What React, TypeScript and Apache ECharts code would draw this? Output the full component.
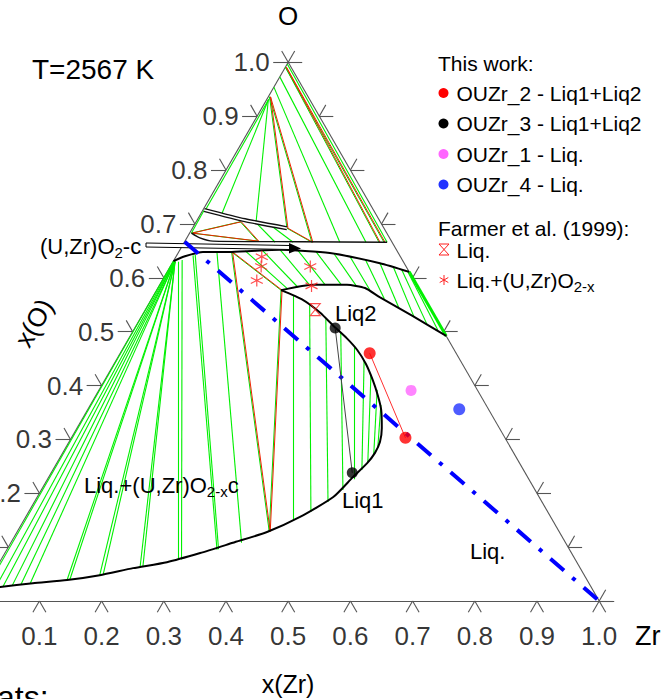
import React, { useEffect, useRef } from "react";
import * as echarts from "echarts";

type P = [number, number];

// ---------- axes ----------
const tickValues = [0, 0.1, 0.2, 0.3, 0.4, 0.5, 0.6, 0.7, 0.8, 0.9, 1.0];
const tickLabels = ["0.1", "0.2", "0.3", "0.4", "0.5", "0.6", "0.7", "0.8", "0.9", "1.0"];

// ---------- phase boundaries, points are [x(Zr), x(O)] ----------
const liqBoundary: P[] = [
  [0.0, 0.022], [0.024, 0.026], [0.073, 0.033], [0.125, 0.039], [0.173, 0.048],
  [0.22, 0.061], [0.269, 0.072], [0.314, 0.089], [0.357, 0.108], [0.402, 0.128],
  [0.441, 0.156], [0.476, 0.193], [0.489, 0.23], [0.499, 0.256], [0.502, 0.275],
  [0.5, 0.295], [0.49, 0.321], [0.472, 0.355], [0.453, 0.382], [0.431, 0.41],
  [0.405, 0.44], [0.378, 0.466], [0.35, 0.488], [0.317, 0.511], [0.284, 0.535],
  [0.244, 0.559], [0.2, 0.577],
];
const liqOxideBoundary: P[] = [
  [0.2, 0.577], [0.247, 0.587], [0.301, 0.587], [0.333, 0.581], [0.365, 0.564],
  [0.436, 0.529], [0.508, 0.492],
];
const oxideBoundary: P[] = [
  [0.0, 0.631], [0.014, 0.64], [0.039, 0.648], [0.085, 0.648], [0.161, 0.652],
  [0.244, 0.646], [0.334, 0.627], [0.389, 0.611],
];
const cubicUpperBoundary: P[] = [
  [0.003, 0.683], [0.021, 0.674], [0.045, 0.668], [0.185, 0.667], [0.326, 0.666],
];
const narrowPhase: P[] = [[0.002, 0.726], [0.077, 0.707], [0.152, 0.692]];

// ---------- three-phase triangles ----------
const triLiq1Liq2Oxide: P[] = [[0.085, 0.648], [0.2, 0.577], [0.405, 0.129]];
const triTopA: P[] = [[0.003, 0.683], [0.071, 0.704], [0.117, 0.668]];
const triTopB: P[] = [[0.002, 0.936], [0.152, 0.692], [0.205, 0.666]];
const triTopC: P[] = [[0.0, 0.991], [0.313, 0.666], [0.321, 0.666]];

// ---------- tie lines [xZr1, xO1, xZr2, xO2] ----------
const tiesLiqOxide = [
  [0.0, 0.631, 0.003, 0.022], [0.001, 0.631, 0.017, 0.024], [0.002, 0.631, 0.028, 0.027],
  [0.002, 0.631, 0.042, 0.029], [0.003, 0.63, 0.055, 0.031], [0.003, 0.63, 0.069, 0.032],
  [0.003, 0.63, 0.125, 0.039], [0.003, 0.63, 0.129, 0.04], [0.003, 0.63, 0.173, 0.048],
  [0.003, 0.63, 0.178, 0.049], [0.003, 0.63, 0.23, 0.064], [0.003, 0.63, 0.234, 0.065],
  [0.008, 0.63, 0.285, 0.076], [0.013, 0.633, 0.29, 0.077], [0.026, 0.642, 0.338, 0.095],
  [0.029, 0.643, 0.34, 0.096], [0.062, 0.647, 0.371, 0.108],
];
const tiesLiq1Liq2 = [
  [0.224, 0.568, 0.433, 0.15], [0.26, 0.549, 0.454, 0.165], [0.299, 0.523, 0.472, 0.184],
  [0.335, 0.499, 0.485, 0.206], [0.369, 0.473, 0.493, 0.226], [0.399, 0.446, 0.497, 0.243],
  [0.423, 0.42, 0.499, 0.258], [0.447, 0.392, 0.502, 0.271], [0.467, 0.364, 0.502, 0.284],
];
const tiesOxideLiq2 = [
  [0.106, 0.65, 0.21, 0.579], [0.133, 0.651, 0.225, 0.582], [0.161, 0.652, 0.242, 0.586],
  [0.19, 0.651, 0.266, 0.587], [0.221, 0.648, 0.292, 0.587], [0.251, 0.645, 0.317, 0.585],
  [0.279, 0.64, 0.343, 0.577], [0.307, 0.634, 0.374, 0.561], [0.334, 0.627, 0.406, 0.544],
  [0.359, 0.62, 0.439, 0.527], [0.375, 0.615, 0.466, 0.514], [0.385, 0.613, 0.489, 0.503],
];
const tieOxideLiq2Edge = [[0.389, 0.611, 0.508, 0.492]];
const tiesTop = [
  [0.0, 0.997, 0.326, 0.666], [0.0, 0.973, 0.292, 0.666], [0.0, 0.954, 0.25, 0.666],
  [0.003, 0.932, 0.004, 0.724], [0.003, 0.93, 0.034, 0.718], [0.003, 0.93, 0.096, 0.705],
  [0.002, 0.726, 0.003, 0.683], [0.095, 0.704, 0.146, 0.666], [0.122, 0.698, 0.175, 0.666],
];

// ---------- experiments ----------
const ouzr2: P[] = [[0.401, 0.46], [0.537, 0.303]];
const ouzr3: P[] = [[0.322, 0.507], [0.484, 0.238]];
const ouzr1: P[] = [[0.502, 0.391]];
const ouzr4: P[] = [[0.597, 0.356]];
const farmerLiq: P[] = [[0.273, 0.541]];
const farmerLiqOxide: P[] = [[0.138, 0.639], [0.146, 0.621], [0.152, 0.595], [0.225, 0.621], [0.245, 0.585]];
const sectionUO2Zr: P[] = [[0.0, 0.667], [1.012, -0.008]];

// ---------- helpers ----------
const H = Math.sqrt(3) / 2;
const PX = 1 / 622;
const FONT = '"Liberation Sans", Arial, Helvetica, sans-serif';
const GREEN = "#00f000";
const xy = (p: number[]): [number, number] => [p[0] + p[1] / 2, p[1] * H];

function segs(list: number[][], dx = 0) {
  return list.map((t) => {
    const a = xy([t[0], t[1]]);
    const b = xy([t[2], t[3]]);
    return { coords: [[a[0] + dx, a[1]], [b[0] + dx, b[1]]] };
  });
}
function triSegs(tri: P[], dx = 0) {
  return [0, 1, 2].map((i) => {
    const a = xy(tri[i]);
    const b = xy(tri[(i + 1) % 3]);
    return { coords: [[a[0] + dx, a[1]], [b[0] + dx, b[1]]] };
  });
}

function buildOption() {
  const edgeSegs: any[] = [
    { coords: [xy([0, 0]), xy([0, 1])] },
    { coords: [xy([0, 1]), xy([1, 0])] },
    { coords: [xy([0, 0]), [xy([1, 0])[0] + 15 * PX, 0]] },
  ];
  for (const v of tickValues) {
    const L = xy([0, v]);
    edgeSegs.push({ coords: [L, [L[0] - 15 * PX, L[1]]] });
    edgeSegs.push({ coords: [L, [L[0] - 6.5 * PX, L[1] + 11.3 * PX]] });
    const R = xy([1 - v, v]);
    edgeSegs.push({ coords: [R, [R[0] + 14 * PX, R[1]]] });
    edgeSegs.push({ coords: [R, [R[0] + 6.5 * PX, R[1] + 11.3 * PX]] });
    const B = xy([v, 0]);
    edgeSegs.push({ coords: [B, [B[0] - 6.5 * PX, B[1] - 11.3 * PX]] });
    edgeSegs.push({ coords: [B, [B[0] + 6.5 * PX, B[1] - 11.3 * PX]] });
  }
  const leftLabels = tickValues.slice(1).map((v, i) => [...xy([0, v]), tickLabels[i]]);
  const bottomLabels = tickValues.slice(1).map((v, i) => [...xy([v, 0]), tickLabels[i]]);

  const linesBase = {
    type: "lines",
    coordinateSystem: "cartesian2d",
    polyline: false,
    silent: true,
    large: false,
    effect: { show: false },
  };
  const curve = (data: P[], width: number, color: string, z: number, smooth: number | boolean = 0.2) => ({
    type: "line",
    data: data.map(xy),
    symbol: "none",
    showSymbol: false,
    smooth,
    silent: true,
    lineStyle: { color, width, opacity: 1 },
    z,
  });
  const greenTies = [
    ...segs(tiesLiqOxide),
    ...segs(tiesLiq1Liq2),
    ...segs(tiesOxideLiq2),
    ...segs(tiesTop),
  ];
  const tris = [triLiq1Liq2Oxide, triTopA, triTopB, triTopC];

  const asterisk = "path://M5 0L5 10M0.67 2.5L9.33 7.5M0.67 7.5L9.33 2.5";
  const hourglass = "path://M0 0L10 0L0 12L10 12Z";

  const txt = (text: string, x: number, y: number, size: number, align = "left", extra: any = {}) => ({
    type: "text",
    x,
    y,
    z: 20,
    silent: true,
    ...extra,
    style: {
      text,
      fill: "#000",
      font: `${size}px ${FONT}`,
      fontSize: size,
      fontFamily: FONT,
      align,
      textAlign: align,
      verticalAlign: "middle",
      textVerticalAlign: "middle",
      ...(extra.style || {}),
    },
  });
  const richTxt = (parts: string, x: number, y: number, size: number) => ({
    type: "text",
    x,
    y,
    z: 20,
    silent: true,
    style: {
      text: parts,
      fill: "#000",
      align: "left",
      textAlign: "left",
      verticalAlign: "middle",
      textVerticalAlign: "middle",
      font: `${size}px ${FONT}`,
      rich: {
        a: { fontSize: size, fontFamily: FONT, fill: "#000", color: "#000" },
        b: { fontSize: 15, fontFamily: FONT, fill: "#000", color: "#000", padding: [12, 0, 0, 0] },
      },
    },
  });

  const legendRows = [
    { y: 93, color: "#ff0000", text: "OUZr_2 - Liq1+Liq2" },
    { y: 123.5, color: "#000000", text: "OUZr_3 - Liq1+Liq2" },
    { y: 154, color: "#ff66ff", text: "OUZr_1 - Liq." },
    { y: 184.5, color: "#2233ff", text: "OUZr_4 - Liq." },
  ];
  const graphic: any[] = [
    txt("O", 288, 16, 26, "center"),
    txt("T=2567 K", 32, 69, 28),
    txt("Zr", 635, 636, 27),
    txt("x(Zr)", 288, 684, 25, "center"),
    txt("x(O)", 34, 323, 26, "center", { rotation: Math.PI / 3 }),
    txt("ats:", -3, 697, 32),
    richTxt("{a|(U,Zr)O}{b|2}{a|-c}", 40, 246.5, 22),
    richTxt("{a|Liq.+(U,Zr)O}{b|2-x}{a|c}", 84, 485, 22),
    txt("Liq2", 335, 313, 22),
    txt("Liq1", 342, 500, 22),
    txt("Liq.", 470, 551, 22),
    // arrow
    {
      type: "polygon",
      z: 5,
      silent: true,
      shape: { points: [[146, 243], [290, 245.5], [290, 249.5], [146, 247]] },
      style: { fill: "#fff", stroke: "#000", lineWidth: 1 },
    },
    {
      type: "polygon",
      z: 5,
      silent: true,
      shape: { points: [[289, 243], [301, 248.5], [289, 253.5]] },
      style: { fill: "#000" },
    },
    // legend
    txt("This work:", 438, 63, 21),
    ...legendRows.map((r) => ({
      type: "circle",
      z: 20,
      silent: true,
      shape: { cx: 443.5, cy: r.y, r: 5 },
      style: { fill: r.color },
    })),
    ...legendRows.map((r) => txt(r.text, 456.5, r.y, 21)),
    txt("Farmer et al. (1999):", 438, 228, 21),
    {
      type: "polygon",
      z: 20,
      silent: true,
      shape: { points: [[439, 244], [449, 244], [439, 255], [449, 255]] },
      style: { fill: "none", stroke: "#ff2020", lineWidth: 1 },
    },
    txt("Liq.", 456.5, 250, 21),
    { type: "line", z: 20, silent: true, shape: { x1: 444, y1: 275, x2: 444, y2: 285 }, style: { stroke: "#ff2020", lineWidth: 1 } },
    { type: "line", z: 20, silent: true, shape: { x1: 439.7, y1: 277.5, x2: 448.3, y2: 282.5 }, style: { stroke: "#ff2020", lineWidth: 1 } },
    { type: "line", z: 20, silent: true, shape: { x1: 439.7, y1: 282.5, x2: 448.3, y2: 277.5 }, style: { stroke: "#ff2020", lineWidth: 1 } },
    richTxt("{a|Liq.+(U,Zr)O}{b|2-x}", 456.5, 280, 21),
  ];

  return {
    animation: false,
    backgroundColor: "#ffffff",
    grid: { left: 0, right: 0, top: 0, bottom: 0, containLabel: false, outerBoundsMode: "none" },
    xAxis: { type: "value", min: 22.8 / 622, max: 689.8 / 622, show: false },
    yAxis: { type: "value", min: -98 / 622, max: 601 / 622, show: false },
    graphic,
    series: [
      { ...linesBase, name: "axes", z: 1, lineStyle: { color: "#555", width: 1.1, opacity: 1 }, data: edgeSegs },
      { ...linesBase, name: "tie lines", z: 2, lineStyle: { color: GREEN, width: 1.1, opacity: 1 }, data: greenTies },
      { ...linesBase, name: "tie edge", z: 2, lineStyle: { color: GREEN, width: 3, opacity: 1 }, data: segs(tieOxideLiq2Edge) },
      { ...linesBase, name: "tri green", z: 3, lineStyle: { color: "#00dd00", width: 1, opacity: 1 }, data: tris.flatMap((t) => triSegs(t)) },
      { ...linesBase, name: "tri red", z: 3, lineStyle: { color: "#ee2200", width: 1, opacity: 1 }, data: tris.flatMap((t) => triSegs(t, PX)) },
      curve(liqBoundary, 2, "#000", 4),
      curve(liqOxideBoundary, 2, "#000", 4),
      curve(oxideBoundary, 2, "#000", 4),
      curve(cubicUpperBoundary, 1.4, "#111", 4),
      curve(narrowPhase, 4.2, "#111", 4),
      curve(narrowPhase, 1.6, "#fff", 4.5),
      {
        type: "line",
        name: "UO2-Zr",
        data: sectionUO2Zr.map(xy),
        symbol: "none",
        silent: true,
        lineStyle: { color: "#0000ff", width: 4, type: [18, 11, 4, 11], cap: "butt", opacity: 1 },
        z: 6,
      },
      curve(ouzr3, 1, "#444", 7, false),
      curve(ouzr2, 1, "#ff3030", 7, false),
      { type: "scatter", name: "OUZr_2 - Liq1+Liq2", data: ouzr2.map(xy), symbol: "circle", symbolSize: 12, itemStyle: { color: "#ff0000" }, z: 8, silent: true },
      { type: "scatter", name: "OUZr_3 - Liq1+Liq2", data: ouzr3.map(xy), symbol: "circle", symbolSize: 11, itemStyle: { color: "#000000" }, z: 8, silent: true },
      { type: "scatter", name: "OUZr_1 - Liq.", data: ouzr1.map(xy), symbol: "circle", symbolSize: 11, itemStyle: { color: "#ff66ff" }, z: 8, silent: true },
      { type: "scatter", name: "OUZr_4 - Liq.", data: ouzr4.map(xy), symbol: "circle", symbolSize: 12, itemStyle: { color: "#2233ff" }, z: 8, silent: true },
      {
        type: "scatter",
        name: "Farmer Liq.",
        data: farmerLiq.map(xy),
        symbol: hourglass,
        symbolSize: [10, 12],
        symbolKeepAspect: false,
        itemStyle: { color: "transparent", borderColor: "#ff2020", borderWidth: 1.1 },
        z: 8,
        silent: true,
      },
      {
        type: "scatter",
        name: "Farmer Liq.+(U,Zr)O2-x",
        data: farmerLiqOxide.map(xy),
        symbol: asterisk,
        symbolSize: 12,
        itemStyle: { color: "transparent", borderColor: "#ff2020", borderWidth: 1.2 },
        z: 8,
        silent: true,
      },
      {
        type: "scatter",
        name: "x(O) ticks",
        data: leftLabels,
        symbolSize: 1,
        itemStyle: { color: "transparent" },
        silent: true,
        z: 9,
        label: {
          show: true,
          position: "left",
          distance: 18,
          formatter: (p: any) => p.data[2],
          fontSize: 26,
          fontFamily: FONT,
          color: "#000",
        },
      },
      {
        type: "scatter",
        name: "x(Zr) ticks",
        data: bottomLabels,
        symbolSize: 1,
        itemStyle: { color: "transparent" },
        silent: true,
        z: 9,
        label: {
          show: true,
          position: "inside",
          offset: [0, 35],
          formatter: (p: any) => p.data[2],
          fontSize: 26,
          fontFamily: FONT,
          color: "#000",
        },
      },
    ],
  };
}

export default function App() {
  const ref = useRef<HTMLDivElement>(null);
  useEffect(() => {
    if (!ref.current) return;
    const chart = echarts.init(ref.current, undefined, { renderer: "svg" });
    chart.setOption(buildOption() as any);
    return () => chart.dispose();
  }, []);
  return (
    <div
      ref={ref}
      style={{ position: "fixed", left: 0, top: 0, width: 667, height: 699, background: "#fff" }}
    />
  );
}
